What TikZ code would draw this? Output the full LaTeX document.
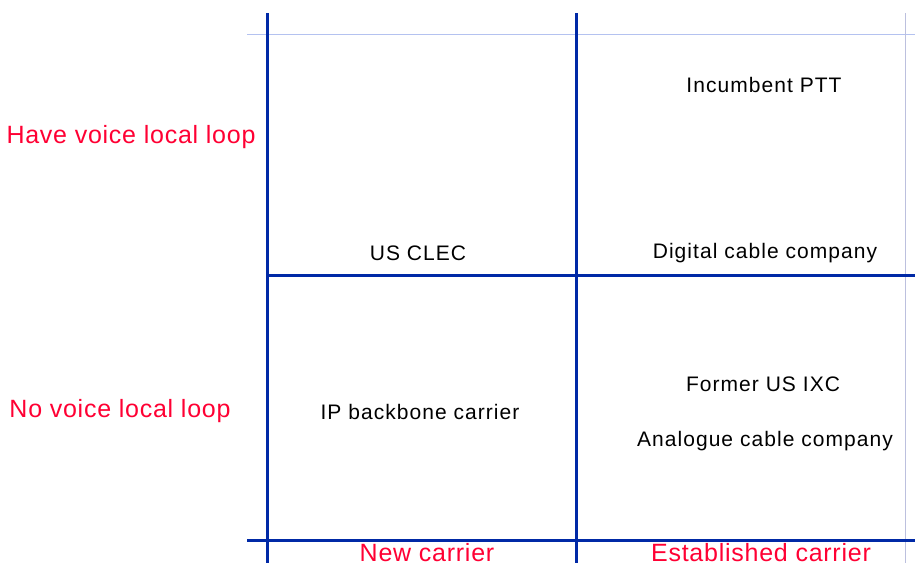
\documentclass[tikz,border=0pt]{standalone}
\usepackage{fontspec}
\setmainfont{Liberation Sans}
\newfontfamily\quadfont[LetterSpace=5]{Liberation Sans}
\newfontfamily\axisfont[LetterSpace=3]{Liberation Sans}
\usepackage{tikz}

\definecolor{gridblue}{RGB}{0,41,166}
\definecolor{paleblue}{RGB}{180,194,240}
\definecolor{palegray}{RGB}{188,192,222}
\definecolor{axisred}{RGB}{255,0,51}

\tikzset{
  quad/.style={font=\quadfont\fontsize{21}{24}\selectfont, text=black},
  axis/.style={font=\axisfont\fontsize{25}{28}\selectfont, text=axisred},
  grid/.style={draw=gridblue, line width=3pt},
}

\begin{document}
\begin{tikzpicture}[x=1pt, y=-1pt]
\useasboundingbox (0,0) rectangle (915,566);
% frame lines
\coordinate (ta) at (247,34);  \coordinate (tb) at (915,34);
\coordinate (ra) at (905,13);  \coordinate (rb) at (905,563);
\draw[paleblue, line width=1pt] (ta) -- (tb);
\draw[palegray, line width=1pt] (ra) -- (rb);
% the grid
\coordinate (l1) at (267,13);  \coordinate (l2) at (267,563);
\coordinate (m1) at (576,13);  \coordinate (m2) at (576,563);
\coordinate (h1) at (267,275); \coordinate (h2) at (915,275);
\coordinate (b1) at (247,540); \coordinate (b2) at (915,540);
\draw[grid] (l1) -- (l2);
\draw[grid] (m1) -- (m2);
\draw[grid] (h1) -- (h2);
\draw[grid] (b1) -- (b2);
% quadrants
\node[quad] (ptt)  at (764,85)  {Incumbent PTT};
\node[quad] (clec) at (418,253) {US CLEC};
\node[quad] (dcab) at (765,253) {Digital cable company};
\node[quad] (ipbb) at (420,412) {IP backbone carrier};
\node[quad] (ixc)  at (763,384) {Former US IXC};
\node[quad] (acab) at (765,441) {Analogue cable company};
% axes
\node[axis] (have) at (131,137) {Have voice local loop};
\node[axis] (nolp) at (120,411) {No voice local loop};
\node[axis, inner sep=1pt] (new)  at (427,553) {New carrier};
\node[axis, inner sep=1pt] (est)  at (761,553) {Established carrier};
\end{tikzpicture}
\end{document}
